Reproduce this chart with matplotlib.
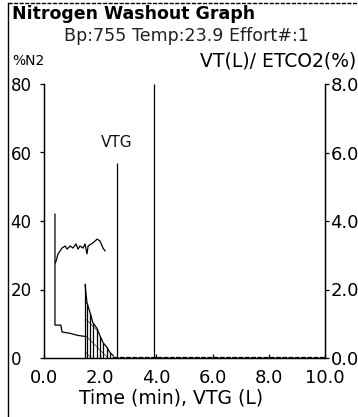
import matplotlib
matplotlib.use("Agg")
import matplotlib.pyplot as plt
from matplotlib.lines import Line2D

plt.rcParams['font.family'] = ['DejaVu Sans']
plt.rcParams['hatch.linewidth'] = 0.5

# N2 trace before the washout breaths (time min, %N2)
n2_time = [0.39, 0.39, 0.60, 0.64, 0.93, 1.20, 1.46]
n2_pct = [42.0, 9.6, 9.6, 7.6, 7.2, 6.6, 6.3]

# breath-by-breath N2 during washout
breath_time = [1.46, 1.53, 1.64, 1.74, 1.89, 1.99, 2.10, 2.24, 2.35, 2.46]
breath_n2 = [21.5, 16.1, 13.2, 10.3, 8.6, 6.5, 4.5, 3.1, 1.6, 0.7]

# end tidal CO2 (right axis, %)
etco2_time = [0.41, 0.50, 0.64, 0.75, 0.82, 0.93, 1.03, 1.14, 1.21, 1.28,
              1.39, 1.46, 1.53, 1.57, 1.74, 1.89, 1.99, 2.10, 2.17]
etco2_pct = [2.78, 3.04, 3.21, 3.27, 3.18, 3.27, 3.21, 3.33, 3.18, 3.27,
             3.21, 3.33, 3.04, 3.27, 3.36, 3.47, 3.42, 3.21, 3.13]

vtg = 2.6
vtg_top = 57.0
end_time = 3.9

x_ticks = [0, 2, 4, 6, 8, 10]
y_ticks = [0, 20, 40, 60, 80]
y2_ticks = [0, 2, 4, 6, 8]

fig = plt.figure(figsize=(3.58, 4.17), dpi=100)
ax = fig.add_axes([44/358, 1 - 358/417, 281/358, 274/417])
ax2 = ax.twinx()

ax.set_xlim(0, 10)
ax.set_ylim(0, 80)
ax2.set_ylim(0, 8)

lw = 0.9
ax.plot(n2_time, n2_pct, color='black', lw=lw)
ax.vlines(breath_time, 0, breath_n2, color='black', lw=lw)
ax.plot(breath_time, breath_n2, color='black', lw=lw)
ax.fill_between(breath_time, 0, breath_n2, facecolor='none', edgecolor='#333333',
                hatch='\\\\', lw=0)
ax.plot([breath_time[-1], 10], [0.3, 0.3], color='black', lw=lw, ls=(0, (4, 1)))
ax2.plot(etco2_time, etco2_pct, color='black', lw=lw)

ax.vlines(vtg, 0, vtg_top, color='black', lw=lw)
ax.text(vtg, vtg_top + 6, 'VTG', ha='center', va='center', fontsize=11, color='#111111')
ax.vlines(end_time, 0, 80, color='black', lw=lw)

for a in (ax, ax2):
    a.spines['top'].set_visible(False)
    a.spines['left'].set_linewidth(lw)
    a.spines['right'].set_linewidth(lw)
    a.spines['bottom'].set_linewidth(lw)
ax.spines['bottom'].set_linestyle((0, (5, 1)))

ax.set_xticks(x_ticks)
ax.set_xticklabels([f'{v:.1f}' for v in x_ticks])
ax.set_yticks(y_ticks)
ax.set_yticklabels([str(v) for v in y_ticks], ha='left')
ax2.set_yticks(y2_ticks)
ax2.set_yticklabels([f'{v:.1f}' for v in y2_ticks])
ax.tick_params(axis='x', direction='in', length=3, width=lw, labelsize=13, pad=8)
ax.tick_params(axis='y', direction='out', length=3, width=lw, labelsize=12, pad=21)
ax2.tick_params(axis='y', direction='out', length=3, width=lw, labelsize=13, pad=1)

ax.set_xlabel('Time (min), VTG (L)', fontsize=13.5, labelpad=1, x=0.452)

fig.text(12/358, 1 - 14/417, 'Nitrogen Washout Graph', fontsize=12.5, fontweight='bold',
         va='center', ha='left')
fig.text(186/358, 1 - 36/417, 'Bp:755 Temp:23.9 Effort#:1', fontsize=12.6,
         va='center', ha='center', color='#222222')
fig.text(12/358, 1 - 61/417, '%N2', fontsize=10, va='center', ha='left')
fig.text(200/358, 1 - 61/417, 'VT(L)/ ETCO2(%)', fontsize=13.5, va='center', ha='left')

# scanned page frame
fig.add_artist(Line2D([8/358, 8/358], [0, 1 - 3/417], transform=fig.transFigure,
                      color='black', lw=1))
fig.add_artist(Line2D([8/358, 1], [1 - 3/417, 1 - 3/417], transform=fig.transFigure,
                      color='black', lw=1, ls=(0, (3, 1))))

fig.savefig('out.png', dpi=100)
